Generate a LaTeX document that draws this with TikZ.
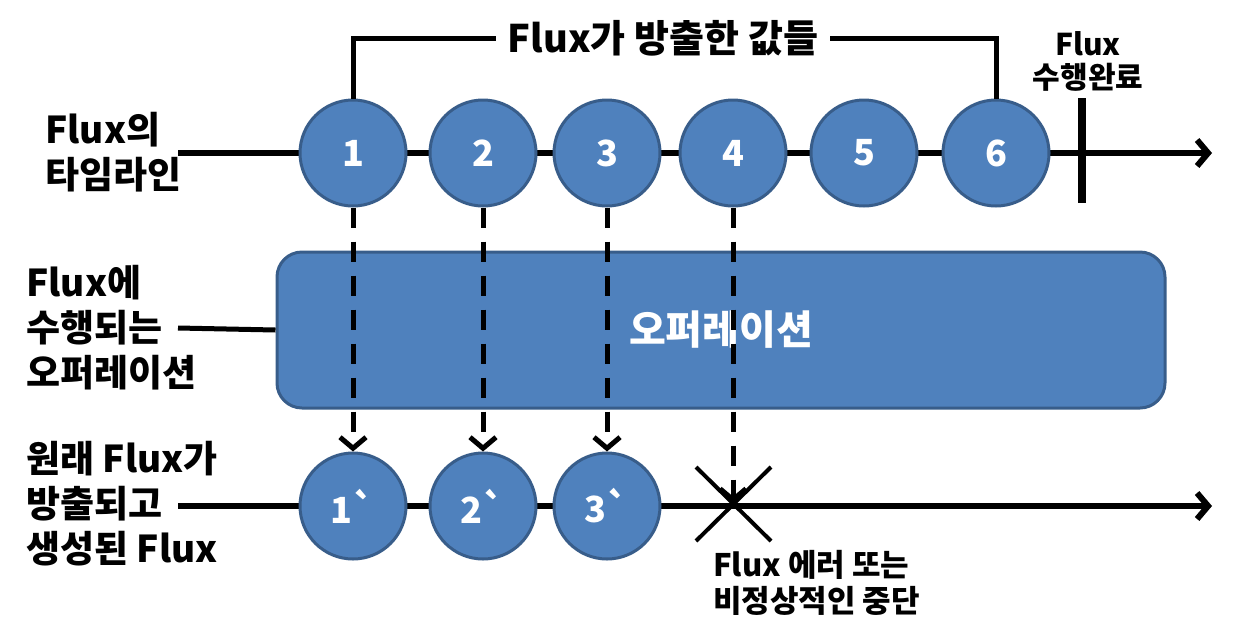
\documentclass[tikz,border=0pt]{standalone}
\usepackage{fontspec}
\setmainfont{Noto Sans CJK KR}
\usetikzlibrary{arrows.meta,calc}
\definecolor{ballfill}{HTML}{4F81BD}
\definecolor{balledge}{HTML}{385D8A}
\tikzset{
  ball/.style={circle, fill=ballfill, draw=balledge, line width=3pt, minimum size=106pt, inner sep=0pt, text=white, font=\bfseries\fontsize{36}{40}\selectfont},
  mainlab/.style={align=left, inner sep=0pt, font=\bfseries\fontsize{37}{45}\selectfont},
  smalllab/.style={inner sep=0pt, font=\bfseries\fontsize{30}{33}\selectfont},
  errlab/.style={align=left, inner sep=0pt, font=\bfseries\fontsize{31}{36}\selectfont},
  tline/.style={line width=6pt, -{Straight Barb[length=11pt,width=26pt]}},
  plainline/.style={line width=5pt},
  dasharrow/.style={line width=5pt, dash pattern=on 20pt off 14pt, -{Straight Barb[length=11pt,width=26pt]}},
  opbox/.style={rectangle, rounded corners=25pt, fill=ballfill, draw=balledge, line width=3pt, minimum width=888pt, minimum height=156pt, text=white, font=\bfseries\fontsize{40}{44}\selectfont},
}
\begin{document}
\begin{tikzpicture}[x=1pt,y=-1pt]
\useasboundingbox (0,0) rectangle (1234,638);
% labels
\node[mainlab, anchor=west] (lab1) at (45,152) {Flux의\\타임라인};
\node[mainlab, anchor=west] (lab2) at (26,328) {Flux에\\수행되는\\오퍼레이션};
\node[mainlab, anchor=west] (lab3) at (26,504) {원래 Flux가\\방출되고\\생성된 Flux};
% timeline top
\coordinate (t0) at (178,153);
\coordinate (t1) at (1212,153);
\draw[tline] (t0) -- (t1);
% timeline bottom
\coordinate (b0) at (178,506);
\coordinate (b1) at (1212,506);
\draw[tline] (b0) -- (b1);
% operation
\coordinate (o0) at (178,328);
\node[opbox] (op) at (721,330) {오퍼레이션};
\draw[plainline] (o0) -- (op.west);
% top balls
\node[ball] (c1) at (353,153) {1};
\node[ball] (c2) at (483,153) {2};
\node[ball] (c3) at (607,153) {3};
\node[ball] (c4) at (733,153) {4};
\node[ball] (c5) at (864,153) {5};
\node[ball] (c6) at (996,153) {6};
% bottom balls
\node[ball] (d1) at (353,506) {1\textasciigrave};
\node[ball] (d2) at (483,506) {2\textasciigrave};
\node[ball] (d3) at (607,506) {3\textasciigrave};
% completion bar
\coordinate (bar0) at (1082,98);
\coordinate (bar1) at (1082,203);
\draw[line width=8pt] (bar0) -- (bar1);
\node[smalllab] (done1) at (1088,44) {Flux};
\node[smalllab] (done2) at (1088,77) {수행완료};
% title bracket
\node[inner sep=12pt, font=\bfseries\fontsize{38}{40}\selectfont] (title) at (663,38) {Flux가 방출한 값들};
\draw[plainline] (c1.north) |- (title.west);
\draw[plainline] (title.east) -| (c6.north);
% dashed arrows
\coordinate (xm) at (733,503);
\draw[dasharrow] (c1.south) -- (d1.north);
\draw[dasharrow] (c2.south) -- (d2.north);
\draw[dasharrow] (c3.south) -- (d3.north);
\draw[dasharrow] (c4.south) -- (xm);
% X mark
\draw[line width=4pt] ($(xm)+(-37,-36)$) -- ($(xm)+(38,38)$);
\draw[line width=4pt] ($(xm)+(-37,38)$) -- ($(xm)+(38,-36)$);
\node[errlab, anchor=north west] (err) at (713,550) {Flux 에러 또는\\비정상적인 중단};
\end{tikzpicture}
\end{document}
